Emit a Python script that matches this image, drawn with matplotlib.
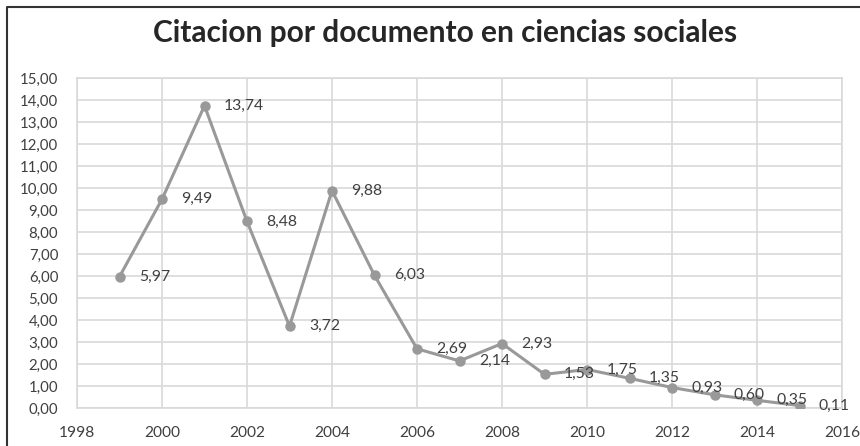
import matplotlib
matplotlib.use("Agg")
import matplotlib.pyplot as plt
from matplotlib.ticker import FuncFormatter, MultipleLocator
from matplotlib.lines import Line2D

# Datos
anios = [1999, 2000, 2001, 2002, 2003, 2004, 2005, 2006, 2007,
         2008, 2009, 2010, 2011, 2012, 2013, 2014, 2015]
citas = [5.97, 9.49, 13.74, 8.48, 3.72, 9.88, 6.03, 2.69, 2.14,
         2.93, 1.53, 1.75, 1.35, 0.93, 0.60, 0.35, 0.11]
titulo = "Citacion por documento en ciencias sociales"

plt.rcParams['font.family'] = ['Lato', 'DejaVu Sans']
texto = '#404040'
gris = '#999999'
rejilla = '#d9d9d9'

fig = plt.figure(figsize=(8.6, 4.46), dpi=100)
ax = fig.add_axes([77 / 860, 1 - 408 / 446, (842 - 77) / 860, (408 - 78) / 446])

ax.plot(anios, citas, color=gris, linewidth=2.2, marker='o', markersize=6.5,
        markerfacecolor=gris, markeredgecolor=gris, zorder=3)

for x, y in zip(anios, citas):
    ax.annotate(f"{y:.2f}".replace('.', ','), (x, y), xytext=(14, 0),
                textcoords='offset points', ha='left', va='center',
                fontsize=11.3, color=texto, zorder=4)

ax.set_xlim(1998, 2016)
ax.set_ylim(0, 15)
ax.xaxis.set_major_locator(MultipleLocator(2))
ax.yaxis.set_major_locator(MultipleLocator(1))
ax.yaxis.set_major_formatter(FuncFormatter(lambda v, p: f"{v:.2f}".replace('.', ',')))
ax.grid(True, color=rejilla, linewidth=1.2, zorder=0)
ax.set_axisbelow(True)
for s in ax.spines.values():
    s.set_color(rejilla)
    s.set_linewidth(1.2)
ax.tick_params(length=0, labelsize=11.2, labelcolor=texto)
ax.tick_params(axis='y', pad=13.5, labelsize=10.8)
ax.tick_params(axis='x', pad=13)

fig.text(445 / 860, 1 - 33 / 446, titulo, ha='center', va='center',
         fontsize=21.5, fontweight='bold', color='#262626')

# borde del area del grafico (solo arriba e izquierda visibles)
fig.add_artist(Line2D([7 / 860, 7 / 860, 1], [0, 1 - 7 / 446, 1 - 7 / 446],
                      transform=fig.transFigure, color='#333333', linewidth=1.5))

fig.savefig("out.png", dpi=100)
